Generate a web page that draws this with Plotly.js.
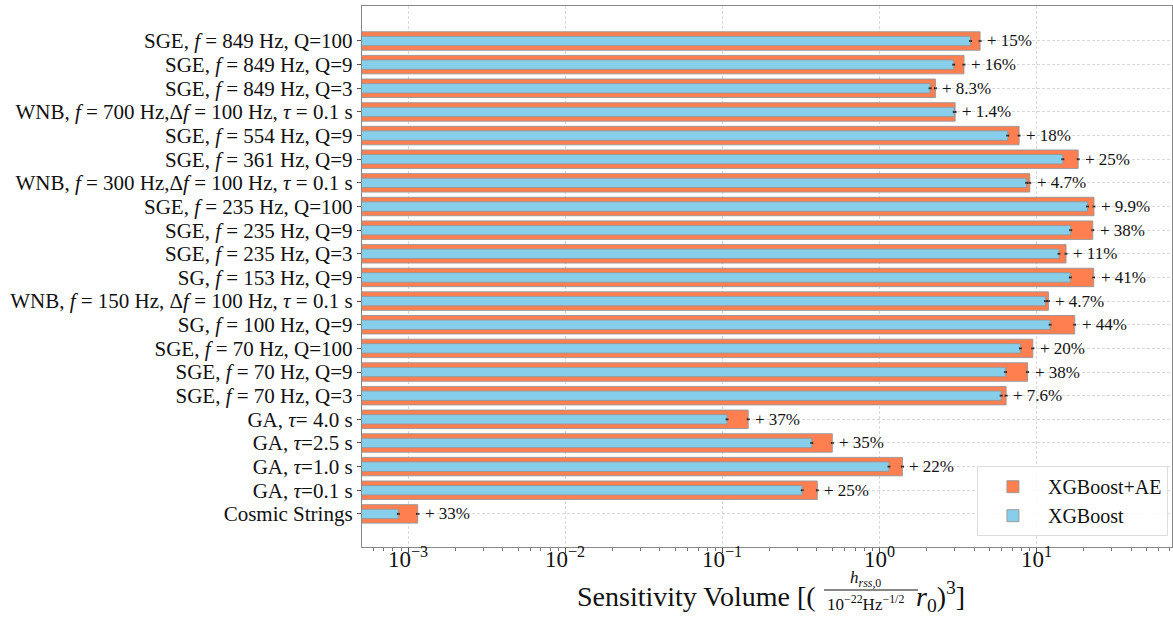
<!DOCTYPE html>
<html>
<head>
<meta charset="utf-8">
<script src="https://cdn.plot.ly/plotly-3.0.1.min.js"></script>
<style>html,body{margin:0;padding:0;background:#fff}#chart{width:1173px;height:621px}</style>
</head>
<body>
<div id="chart"></div>
<script>
// Categories, top to bottom
const categories = [
  "SGE, <i>f</i> = 849 Hz, Q=100",
  "SGE, <i>f</i> = 849 Hz, Q=9",
  "SGE, <i>f</i> = 849 Hz, Q=3",
  "WNB, <i>f</i> = 700 Hz,Δ<i>f</i> = 100 Hz, <i>τ</i> = 0.1 s",
  "SGE, <i>f</i> = 554 Hz, Q=9",
  "SGE, <i>f</i> = 361 Hz, Q=9",
  "WNB, <i>f</i> = 300 Hz,Δ<i>f</i> = 100 Hz, <i>τ</i> = 0.1 s",
  "SGE, <i>f</i> = 235 Hz, Q=100",
  "SGE, <i>f</i> = 235 Hz, Q=9",
  "SGE, <i>f</i> = 235 Hz, Q=3",
  "SG, <i>f</i> = 153 Hz, Q=9",
  "WNB, <i>f</i> = 150 Hz, Δ<i>f</i> = 100 Hz, <i>τ</i> = 0.1 s",
  "SG, <i>f</i> = 100 Hz, Q=9",
  "SGE, <i>f</i> = 70 Hz, Q=100",
  "SGE, <i>f</i> = 70 Hz, Q=9",
  "SGE, <i>f</i> = 70 Hz, Q=3",
  "GA, <i>τ</i>= 4.0 s",
  "GA, <i>τ</i>=2.5 s",
  "GA, <i>τ</i>=1.0 s",
  "GA, <i>τ</i>=0.1 s",
  "Cosmic Strings"
];
const xgbAE = [4.37, 3.45, 2.27, 3.03, 7.74, 18.4, 9.06, 23.2, 22.8, 15.4, 23.1, 11.9, 17.5, 9.47, 8.76, 6.40, 0.146, 0.501, 1.40, 0.402, 0.00115];
const xgbAEErr = [0.06, 0.05, 0.03, 0.04, 0.1, 0.25, 0.12, 0.3, 0.3, 0.2, 0.3, 0.16, 0.24, 0.13, 0.12, 0.09, 0.002, 0.007, 0.02, 0.005, 0.00002];
const xgb = [3.80, 2.97, 2.10, 2.99, 6.56, 14.7, 8.65, 21.1, 16.5, 13.9, 16.4, 11.4, 12.2, 7.89, 6.35, 5.95, 0.107, 0.371, 1.15, 0.322, 0.000865];
const xgbErr = [0.05, 0.04, 0.03, 0.04, 0.09, 0.2, 0.11, 0.28, 0.22, 0.18, 0.22, 0.15, 0.16, 0.1, 0.08, 0.08, 0.0014, 0.005, 0.015, 0.004, 0.000012];
const gainLabels = ["+ 15%", "+ 16%", "+ 8.3%", "+ 1.4%", "+ 18%", "+ 25%", "+ 4.7%", "+ 9.9%", "+ 38%", "+ 11%", "+ 41%", "+ 4.7%", "+ 44%", "+ 20%", "+ 38%", "+ 7.6%", "+ 37%", "+ 35%", "+ 22%", "+ 25%", "+ 33%"];
const majorTicks = [0.001, 0.01, 0.1, 1, 10];
const majorTickText = ["10<sup>−3</sup>", "10<sup>−2</sup>", "10<sup>−1</sup>", "10<sup>0</sup>", "10<sup>1</sup>"];

const FONT = "Liberation Serif, Times New Roman, serif";

// tick marks (2..9 subdivisions of each decade)
const minorTicks = [];
for (let e = -4; e <= 1; e++) {
  for (let m = 2; m <= 9; m++) minorTicks.push(m * Math.pow(10, e));
}

const traces = [
  {
    type: "bar", orientation: "h", name: "XGBoost+AE",
    x: xgbAE, y: categories, width: 0.78,
    marker: {color: "#FF7F50", line: {color: "rgba(150,150,150,0.9)", width: 1}},
    error_x: {type: "data", array: xgbAEErr, visible: true, color: "#222", thickness: 1, width: 1}
  },
  {
    type: "bar", orientation: "h", name: "XGBoost",
    x: xgb, y: categories, width: 0.4,
    marker: {color: "#87CEEB", line: {color: "rgba(150,150,150,0.9)", width: 1}},
    error_x: {type: "data", array: xgbErr, visible: true, color: "#222", thickness: 1, width: 1}
  }
];

const annotations = categories.map((c, i) => ({
  x: Math.log10(xgbAE[i]), y: c, xref: "x", yref: "y",
  text: gainLabels[i], showarrow: false, xanchor: "left", yanchor: "middle",
  xshift: 5, font: {family: FONT, size: 17, color: "#111"}
}));

// x tick labels placed just below the axis
majorTicks.forEach((v, i) => annotations.push({
  x: Math.log10(v), xref: "x", yref: "paper", y: -0.004, yshift: 8, xanchor: "center", yanchor: "top",
  text: majorTickText[i], showarrow: false, font: {family: FONT, size: 23, color: "#111"}
}));

// x-axis title pieces (fraction drawn with annotations + a line)
annotations.push(
  {xref: "paper", yref: "paper", x: 0.563, y: -0.0924, xanchor: "right", yanchor: "middle",
   text: "Sensitivity Volume [(", showarrow: false, font: {family: FONT, size: 28, color: "#111"}},
  {xref: "paper", yref: "paper", x: 0.6222, y: -0.059, xanchor: "center", yanchor: "middle",
   text: "<i>h</i><sub><i>rss</i>,0</sub>", showarrow: false, font: {family: FONT, size: 17, color: "#111"}},
  {xref: "paper", yref: "paper", x: 0.6222, y: -0.1035, xanchor: "center", yanchor: "middle",
   text: "10<sup>−22</sup>Hz<sup>−1/2</sup>", showarrow: false, font: {family: FONT, size: 17, color: "#111"}},
  {xref: "paper", yref: "paper", x: 0.6815, y: -0.0924, xanchor: "left", yanchor: "middle",
   text: "<i>r</i><sub>0</sub>)<sup>3</sup>]", showarrow: false, font: {family: FONT, size: 28, color: "#111"}}
);

const layout = {
  width: 1173, height: 621,
  margin: {l: 362, r: 1, t: 6, b: 74},
  paper_bgcolor: "#fff", plot_bgcolor: "#fff",
  barmode: "overlay",
  font: {family: FONT, color: "#111"},
  showlegend: true,
  legend: {
    x: 0.995, y: 0.02, xanchor: "right", yanchor: "bottom",
    bgcolor: "rgba(255,255,255,0.9)", bordercolor: "#ddd", borderwidth: 1,
    font: {family: FONT, size: 20, color: "#111"}, traceorder: "normal",
    itemwidth: 60
  },
  xaxis: {
    type: "log", range: [Math.log10(5.08e-4), Math.log10(72.8)],
    tickmode: "array", tickvals: majorTicks, showticklabels: false,
    ticks: "outside", ticklen: 5, tickcolor: "#555",
    minor: {tickmode: "array", tickvals: minorTicks, ticks: "outside", ticklen: 3, tickcolor: "#777", showgrid: false},
    showgrid: true, gridcolor: "rgba(200,200,200,0.7)", griddash: "3px,2px", gridwidth: 1,
    showline: true, linecolor: "#888", linewidth: 1.2, mirror: true, zeroline: false
  },
  yaxis: {
    type: "category", range: [21.4, -1.48],
    tickmode: "linear", tick0: 0, dtick: 1,
    tickfont: {family: FONT, size: 21, color: "#111"},
    ticks: "outside", ticklen: 4, tickcolor: "#555",
    showgrid: true, gridcolor: "rgba(200,200,200,0.7)", griddash: "3px,2px", gridwidth: 1,
    showline: true, linecolor: "#888", linewidth: 1.2, mirror: true, zeroline: false
  },
  annotations: annotations,
  shapes: [
    {type: "line", xref: "paper", yref: "paper", x0: 0.5704, x1: 0.6864, y0: -0.0795, y1: -0.0795,
     line: {color: "#111", width: 1}}
  ]
};

Plotly.newPlot("chart", traces, layout, {displayModeBar: false, staticPlot: true});
</script>
</body>
</html>
